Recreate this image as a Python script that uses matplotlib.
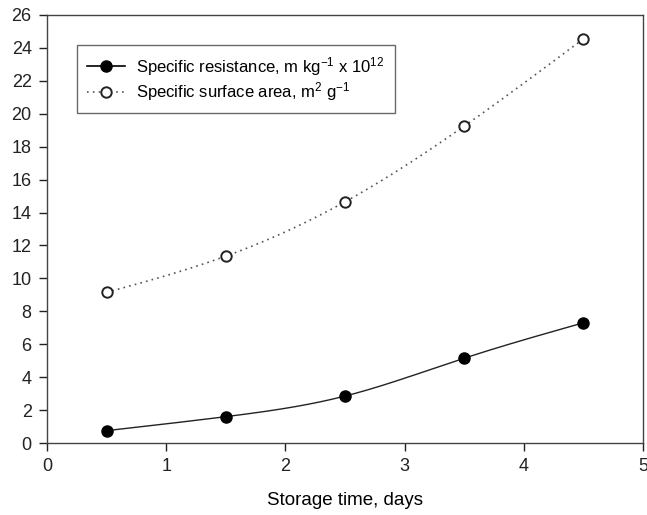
import numpy as np
import matplotlib
matplotlib.use('Agg')
import matplotlib.pyplot as plt

plt.rcParams['font.family'] = ['Liberation Sans', 'DejaVu Sans']
plt.rcParams['mathtext.default'] = 'regular'

days = [0.5, 1.5, 2.5, 3.5, 4.5]
resistance = [0.75, 1.6, 2.85, 5.15, 7.3]
surface_area = [9.15, 11.35, 14.65, 19.25, 24.55]


def spline(x, y, n=200):
    # natural cubic spline through the points
    x = np.asarray(x, float)
    y = np.asarray(y, float)
    k = len(x)
    h = np.diff(x)
    A = np.zeros((k, k))
    b = np.zeros(k)
    A[0, 0] = A[-1, -1] = 1
    for i in range(1, k - 1):
        A[i, i - 1] = h[i - 1]
        A[i, i] = 2 * (h[i - 1] + h[i])
        A[i, i + 1] = h[i]
        b[i] = 6 * ((y[i + 1] - y[i]) / h[i] - (y[i] - y[i - 1]) / h[i - 1])
    m = np.linalg.solve(A, b)
    xs = np.linspace(x[0], x[-1], n)
    idx = np.clip(np.searchsorted(x, xs) - 1, 0, k - 2)
    t0 = x[idx]
    t1 = x[idx + 1]
    hh = t1 - t0
    ys = (m[idx] * (t1 - xs) ** 3 / (6 * hh) + m[idx + 1] * (xs - t0) ** 3 / (6 * hh)
          + (y[idx] / hh - m[idx] * hh / 6) * (t1 - xs)
          + (y[idx + 1] / hh - m[idx + 1] * hh / 6) * (xs - t0))
    return xs, ys


fig = plt.figure(figsize=(6.47, 5.15), dpi=100)
ax = fig.add_axes([47 / 647, 1 - 443 / 515, (643 - 47) / 647, (443 - 15) / 515])

xs, ys = spline(days, resistance)
ax.plot(xs, ys, color='#222222', lw=1.0)
ax.plot(days, resistance, 'o', color='black', ms=8, ls='none')

xs2, ys2 = spline(days, surface_area)
ax.plot(xs2, ys2, color='#555555', lw=1.2, ls=(0, (1, 2.5)))
ax.plot(days, surface_area, 'o', mfc='white', mec='#222222', mew=1.4, ms=7.5, ls='none')

# legend proxies
h1, = ax.plot([], [], '-o', color='black', lw=1.2, ms=8)
h2, = ax.plot([], [], marker='o', mfc='white', mec='#222222', mew=1.4, ms=7.5,
              color='#555555', lw=1.2, ls=(0, (1, 2.5)))
leg = ax.legend([h1, h2],
                ['Specific resistance, m kg$^{-1}$ x 10$^{12}$',
                 'Specific surface area, m$^{2}$ g$^{-1}$'],
                loc='upper left', bbox_to_anchor=(0.0503, 0.930), borderaxespad=0,
                fontsize=12, frameon=True, fancybox=False, edgecolor='#444444',
                handlelength=2.3, handletextpad=0.65, borderpad=0.6, labelspacing=0.15)
leg.get_frame().set_linewidth(1.0)

ax.set_xlim(0, 5)
ax.set_ylim(0, 26)
ax.set_xticks(range(0, 6))
ax.set_yticks(range(0, 27, 2))
ax.tick_params(direction='out', length=6, width=1, labelsize=13, colors='#222222', pad=5)
ax.tick_params(top=False, right=False)
for s in ax.spines.values():
    s.set_color('#444444')
    s.set_linewidth(1.0)
ax.set_xlabel('Storage time, days', fontsize=13.5, labelpad=12)

fig.savefig('out.png', dpi=100)
